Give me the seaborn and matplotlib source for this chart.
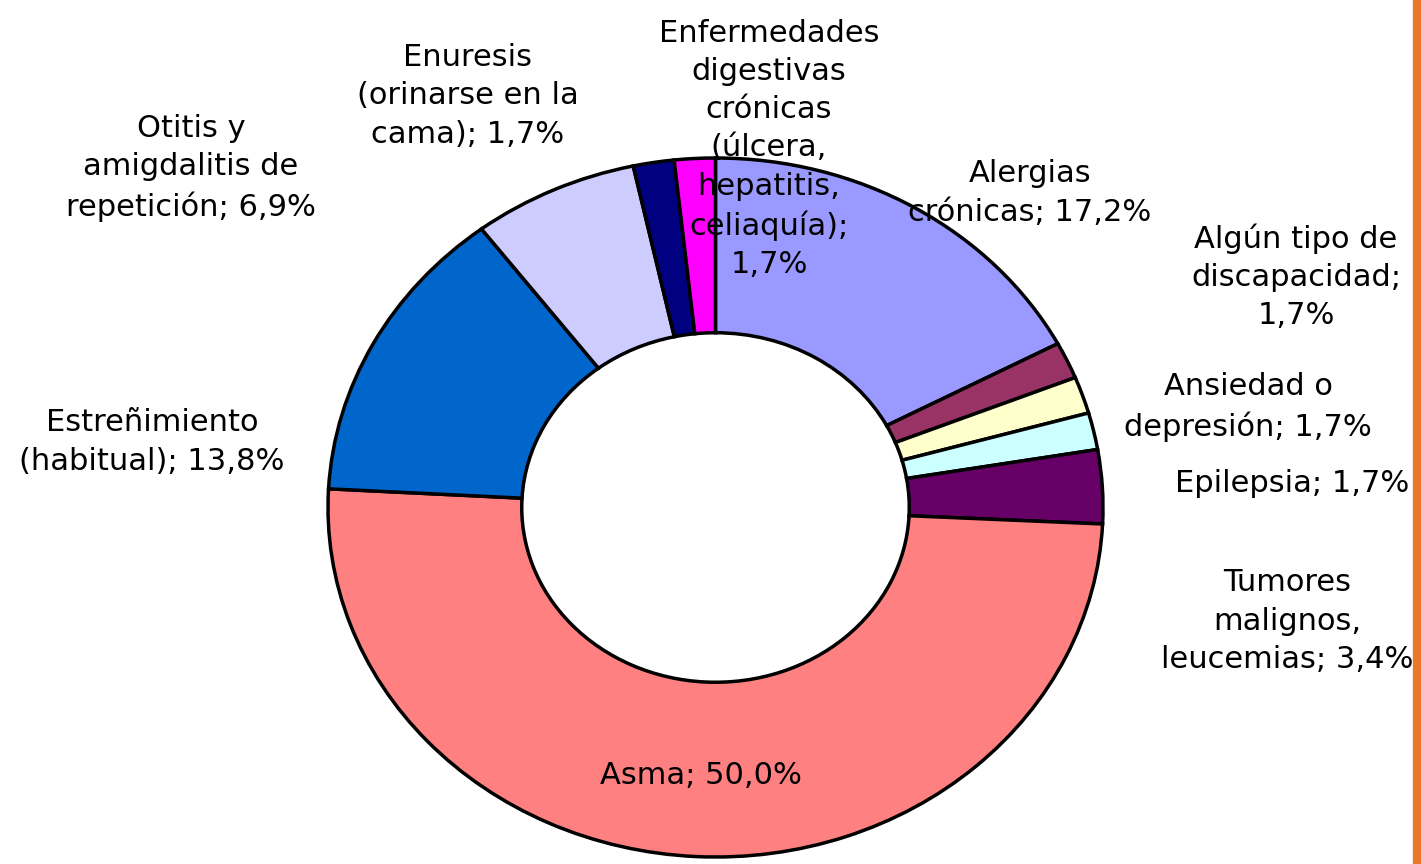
import matplotlib
matplotlib.use("Agg")
import matplotlib.pyplot as plt
import seaborn as sns

# Datos (sentido horario desde las 12)
categorias = [
    "Alergias\ncrónicas",
    "Algún tipo de\ndiscapacidad",
    "Ansiedad o\ndepresión",
    "Epilepsia",
    "Tumores\nmalignos,\nleucemias",
    "Asma",
    "Estreñimiento\n(habitual)",
    "Otitis y\namigdalitis de\nrepetición",
    "Enuresis\n(orinarse en la\ncama)",
    "Enfermedades\ndigestivas\ncrónicas\n(úlcera,\nhepatitis,\nceliaquía)",
]
porcentajes = [17.2, 1.7, 1.7, 1.7, 3.4, 50.0, 13.8, 6.9, 1.7, 1.7]
separadores = ["; ", ";\n", "; ", "; ", "; ", "; ", "; ", "; ", "; ", ";\n"]

# Estilo
colores = ["#9999FF", "#993366", "#FFFFCC", "#CCFFFF", "#660066",
           "#FF8080", "#0066CC", "#CCCCFF", "#000080", "#FF00FF"]
# posición del centro de cada etiqueta (pixeles, origen arriba-izquierda)
pos_etiquetas = [(1030, 193), (1296, 277), (1248, 407), (1292, 483), (1287, 621),
                 (701, 775), (152, 442), (191, 168), (468, 96), (769, 149)]

W, H = 1421, 864

sns.set_style("white")
plt.rcParams["font.family"] = ["DejaVu Sans"]

fig = plt.figure(figsize=(W / 100, H / 100), dpi=100)
fig.patch.set_facecolor("white")

ax = fig.add_axes([328 / W, (H - 857) / H, 775 / W, 699 / H])
wedges, _ = ax.pie(
    porcentajes,
    colors=colores,
    startangle=90,
    counterclock=False,
    wedgeprops=dict(width=0.5, edgecolor="black", linewidth=2.5),
)
for w in wedges:
    w.set_clip_on(False)
ax.set_aspect("auto")
ax.set_xlim(-1, 1)
ax.set_ylim(-1, 1)
ax.axis("off")

def fmt(v):
    return f"{v:.1f}".replace(".", ",") + "%"

for nombre, v, sep, (px, py) in zip(categorias, porcentajes, separadores, pos_etiquetas):
    fig.text(px / W, 1 - py / H, nombre + sep + fmt(v), ha="center", va="center",
             multialignment="center", fontsize=22, color="black", linespacing=1.4)

# línea naranja del borde derecho
fig.add_artist(plt.Line2D([1417 / W, 1417 / W], [0, 1], transform=fig.transFigure,
                          color="#EB7828", linewidth=6))

fig.savefig("out.png", dpi=100)
